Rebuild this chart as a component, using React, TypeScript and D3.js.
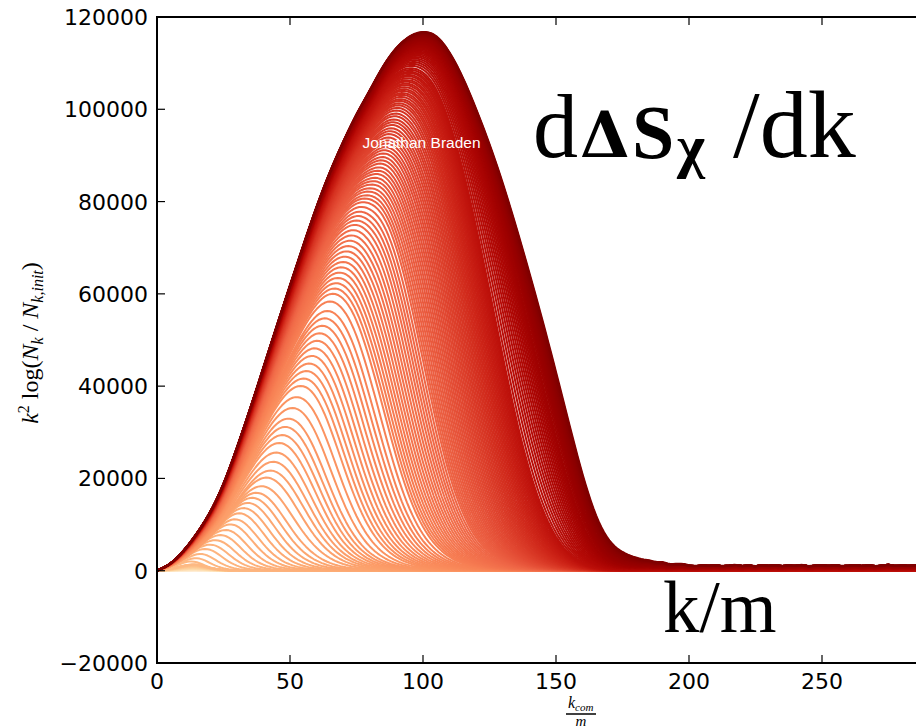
import React, { useMemo } from 'react';
import * as d3 from 'd3';

const xTicks = [0, 50, 100, 150, 200, 250];
const yTicks = [-20000, 0, 20000, 40000, 60000, 80000, 100000, 120000];

// Late-time spectrum k^2 log(N_k/N_k,init) in thousands, every 5 in k/m from 0 to 205
const spectrumStep = 5;
const lateSpectrum = [
  0, 1.3, 4.2, 8.0, 12.5, 18.5, 26.5, 35, 44, 53,
  61.8, 70.5, 79, 86.5, 93, 99, 104, 109.5, 113.5, 116,
  117, 116.3, 112.5, 107, 100, 92.5, 84, 74.5, 64.5, 54,
  43, 31.4, 20.2, 11.0, 5.5, 3.1, 1.8, 1.0, 0.6, 0.3,
  0.12, 0,
];

// Noisy high-k floor of the last snapshots, thousands, from k/m = 150 every 2.5
const floorStart = 150;
const floorStep = 2.5;
const highKFloor = [
  0, 0.05, 0.1, 0.16, 0.22, 0.3, 0.38, 0.46, 0.55, 0.64, 0.74, 0.84, 0.95,
  1.02, 1.18, 1.05, 1.22, 0.98, 1.12, 1.25, 1.04, 0.96, 1.15,
  1.08, 1.2, 0.99, 1.1, 1.27, 1.03, 1.14, 0.97, 1.19, 1.06,
  1.23, 1.01, 1.13, 1.08, 1.26, 0.98, 1.11, 1.17, 1.04, 1.21,
  0.99, 1.09, 1.24, 1.05, 1.16, 1.0, 1.12, 1.28, 1.03, 1.15,
  1.07, 1.2, 0.97, 1.1, 1.22, 1.04, 1.14, 1.06,
];

// Early snapshots: size of the small low-k bump before the resonance takes off
const seedCutoff = 16;
const seedAmplitudes = [
  0, 0, 0, 0, 0, 0, 0.001, 0.002, 0.003, 0.004,
  0.005, 0.006, 0.008, 0.009, 0.011, 0.012, 0.014, 0.016, 0.018, 0.02,
  0.022, 0.024, 0.026, 0.028, 0.031, 0.033, 0.036, 0.038, 0.041, 0.044,
  0.046, 0.049, 0.052, 0.055, 0.058, 0.061, 0.064, 0.067, 0.07, 0.074,
  0.077, 0.08, 0.084, 0.087, 0.091, 0.094, 0.098, 0.101, 0.105, 0.109,
  0.112, 0.116, 0.12, 0.124, 0.128, 0.132, 0.136, 0.14, 0.144, 0.148,
  0.152, 0.157, 0.161, 0.165, 0.17, 0.174, 0.179, 0.183, 0.188, 0.192,
  0.197, 0.202, 0.207, 0.212, 0.217, 0.222, 0.228, 0.233, 0.239, 0.245,
  0.251, 0.257, 0.263, 0.27, 0.277,
];

// Growing snapshots: [cutoff k/m, amplitude relative to the late spectrum]
const growthStages: [number, number][] = [
  [15, 0.45], [17, 0.5], [19, 0.56], [21, 0.62], [23, 0.64], [25, 0.65], [27, 0.66], [29, 0.66], [31, 0.66],
  [33, 0.65], [35, 0.65], [37, 0.64], [39, 0.63], [41, 0.62], [43, 0.61], [45.5, 0.6], [48, 0.6], [50, 0.6],
  [51.5, 0.62], [53, 0.64], [54.5, 0.66], [56, 0.67], [57.5, 0.68], [59, 0.69], [61, 0.7], [63, 0.71], [65, 0.72],
  [66.4, 0.725], [67.8, 0.73], [69.2, 0.735], [70.6, 0.74], [72, 0.745], [73.4, 0.75], [74.8, 0.755],
  [76.2, 0.76], [77.6, 0.765], [79, 0.77], [80.5, 0.78], [82, 0.785],
  [82.9, 0.79], [83.8, 0.795], [84.7, 0.8], [85.6, 0.805], [86.5, 0.81], [87.4, 0.815], [88.3, 0.82],
  [89.2, 0.825], [90.1, 0.83], [91, 0.835], [91.9, 0.84], [92.8, 0.845], [93.7, 0.85], [94.6, 0.853],
  [95.5, 0.856], [96.4, 0.859], [97.3, 0.863], [98.2, 0.867],
  [98.9, 0.87], [99.6, 0.872], [100.3, 0.875], [101, 0.877], [101.7, 0.88], [102.4, 0.882], [103.1, 0.884],
  [103.8, 0.887], [104.5, 0.889], [105.2, 0.891], [105.9, 0.894], [106.6, 0.896], [107.3, 0.898], [108, 0.901],
  [108.7, 0.903], [109.4, 0.905], [110.1, 0.908], [110.8, 0.91], [111.5, 0.912], [112.2, 0.915], [112.9, 0.917],
  [113.6, 0.919], [114.3, 0.922], [115, 0.924], [115.7, 0.926], [116.4, 0.929], [117.1, 0.931], [117.8, 0.934],
  [118.5, 0.936], [119.2, 0.938], [119.9, 0.939], [120.6, 0.941], [121.3, 0.942], [122, 0.944], [122.7, 0.946],
  [123.4, 0.947], [124.1, 0.949], [124.8, 0.95], [125.5, 0.952], [126.2, 0.954], [126.9, 0.955], [127.6, 0.957],
  [128.3, 0.958], [129, 0.96], [129.7, 0.962], [130.4, 0.963], [131.1, 0.965], [131.8, 0.966], [132.5, 0.968],
  [133.2, 0.97],
  [134.5, 0.972], [136, 0.973], [137.5, 0.974], [139, 0.975], [140.5, 0.976], [142, 0.977], [143.5, 0.978],
  [145, 0.979], [146.5, 0.98], [148, 0.981], [149.5, 0.982], [151, 0.983], [152.5, 0.984], [154, 0.985],
  [155.5, 0.986], [157, 0.987], [158.5, 0.988], [160, 0.989], [162, 0.99], [164, 0.991], [166, 0.992],
  [168, 0.993], [170, 0.994], [172.5, 0.995], [175, 0.996], [178, 0.997], [181, 0.997], [184, 0.998],
  [188, 0.998], [192, 0.999], [197, 0.999], [203, 1], [210, 1], [218, 1], [228, 1],
  [400, 1],
];

const W = 916;
const H = 728;

const spectrumAt = (() => {
  const basis = d3.interpolateBasis(lateSpectrum);
  const kMax = spectrumStep * (lateSpectrum.length - 1);
  return (k: number) => (k >= kMax ? 0 : Math.max(0, basis(k / kMax)));
})();

const floorAt = (k: number) => {
  if (k <= floorStart) return 0;
  const p = (k - floorStart) / floorStep;
  const i = Math.floor(p);
  if (i >= highKFloor.length - 1) return highKFloor[highKFloor.length - 1];
  return highKFloor[i] + (highKFloor[i + 1] - highKFloor[i]) * (p - i);
};

// roll-off width of each snapshot's high-k edge grows with its cutoff
const rollOff = d3.scaleLinear().domain([0, 45, 120, 200]).range([0.5, 6.75, 10, 16]).clamp(true);
const floorShare = d3.scaleLinear().domain([130, 180]).range([0, 1]).clamp(true);
const sigmoid = (z: number) => 1 / (1 + Math.exp(-z));

export default function App() {
  const x = d3.scaleLinear().domain([0, 250]).range([157, 822]);
  const y = d3.scaleLinear().domain([-20000, 120000]).range([663, 17]);
  const xRight = x(300);

  const paths = useMemo(() => {
    const stages: [number, number][] = [
      ...seedAmplitudes.map((a) => [seedCutoff, a] as [number, number]),
      ...growthStages,
    ];
    const ks = d3.range(0, 300.01, 1);
    const line = d3
      .line<[number, number]>()
      .x((d) => x(d[0]))
      .y((d) => y(d[1]));
    const n = stages.length;
    return stages.map(([kc, a], i) => {
      const w = rollOff(kc);
      const share = floorShare(kc);
      const pts = ks.map((k) => {
        const v = a * sigmoid((kc - k) / w) * spectrumAt(k) + share * floorAt(k);
        return [k, v * 1000] as [number, number];
      });
      return { d: line(pts) as string, color: d3.interpolateOrRd(i / (n - 1)), last: i === n - 1 };
    });
  }, []);

  const tickFont = { fontFamily: 'DejaVu Sans', fontSize: 22 };

  return (
    <svg
      width={W}
      height={H}
      style={{ position: 'absolute', left: 0, top: 0, background: '#fff' }}
    >
      <defs>
        <clipPath id="plotArea">
          <rect x={x(0)} y={y(120000)} width={xRight - x(0)} height={y(-20000) - y(120000)} />
        </clipPath>
      </defs>
      <rect width={W} height={H} fill="#fff" />

      <g clipPath="url(#plotArea)" fill="none" strokeLinejoin="round" strokeLinecap="round">
        {paths.map((p, i) => (
          <path key={i} d={p.d} stroke={p.color} strokeWidth={p.last ? 2.4 : 2} />
        ))}
      </g>

      {/* frame */}
      <path
        d={`M${xRight},${y(120000)}H${x(0)}V${y(-20000)}H${xRight}`}
        fill="none"
        stroke="#000"
        strokeWidth={2}
      />
      {xTicks.map((t) => (
        <g key={`xt${t}`} stroke="#000" strokeWidth={1.2}>
          <line x1={x(t)} x2={x(t)} y1={y(-20000)} y2={y(-20000) - 8} />
          <line x1={x(t)} x2={x(t)} y1={y(120000)} y2={y(120000) + 8} />
        </g>
      ))}
      {yTicks.map((t) => (
        <line key={`yt${t}`} x1={x(0)} x2={x(0) + 8} y1={y(t)} y2={y(t)} stroke="#000" strokeWidth={1.2} />
      ))}
      {xTicks.map((t) => (
        <text key={`xl${t}`} x={x(t)} y={689} textAnchor="middle" {...tickFont}>
          {t}
        </text>
      ))}
      {yTicks.map((t) => (
        <text key={`yl${t}`} x={148} y={y(t) + 8} textAnchor="end" {...tickFont}>
          {t < 0 ? `\u2212${Math.abs(t)}` : t}
        </text>
      ))}

      {/* axis titles */}
      <text
        transform="translate(38,343) rotate(-90)"
        textAnchor="middle"
        fontFamily="Liberation Serif"
        fontSize={24}
      >
        <tspan fontStyle="italic">k</tspan>
        <tspan fontSize={16} dy={-9}>2</tspan>
        <tspan dy={9}> log(</tspan>
        <tspan fontStyle="italic">N</tspan>
        <tspan fontStyle="italic" fontSize={16} dy={5}>k</tspan>
        <tspan dy={-5}> / </tspan>
        <tspan fontStyle="italic">N</tspan>
        <tspan fontStyle="italic" fontSize={16} dy={5}>k,init</tspan>
        <tspan dy={-5}>)</tspan>
      </text>
      <g fontFamily="Liberation Serif" fontStyle="italic">
        <text x={568} y={708} fontSize={16}>
          k<tspan fontSize={11} dy={3}>com</tspan>
        </text>
        <line x1={566} x2={596} y1={714} y2={714} stroke="#000" strokeWidth={1.5} />
        <text x={581} y={726} fontSize={15} textAnchor="middle">m</text>
      </g>

      {/* credit */}
      <text x={421.5} y={148} textAnchor="middle" fill="#fff" fontFamily="Liberation Sans" fontSize={15.5}>
        Jonathan Braden
      </text>

      {/* annotations */}
      <g fill="#000">
        <text x={533} y={157} fontSize={90} fontFamily="Liberation Serif">d</text>
        <text x={580} y={157} fontSize={64} fontWeight="bold" fontFamily="DejaVu Serif">Δ</text>
        <text x={632} y={158} fontSize={76} fontWeight="bold" fontFamily="Liberation Serif">S</text>
        <text x={677} y={166} fontSize={60} fontWeight="bold" fontFamily="Liberation Serif">χ</text>
        <text x={733} y={157} fontSize={96} fontFamily="Liberation Serif">/dk</text>
        <text x={663} y={632} fontSize={73} fontFamily="Liberation Serif">k/m</text>
      </g>
    </svg>
  );
}
